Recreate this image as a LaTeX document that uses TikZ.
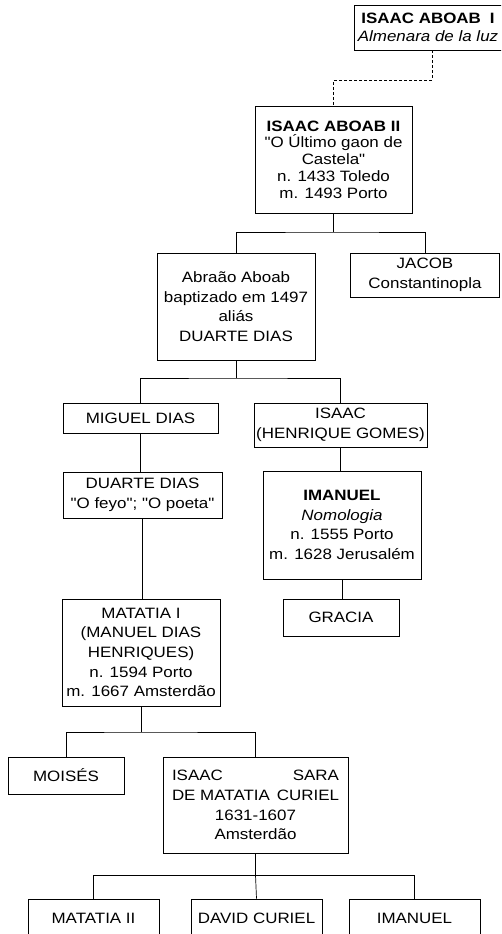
\documentclass[tikz,border=0pt]{standalone}
\usepackage{fontspec}
\setmainfont{Liberation Sans}[FakeStretch=1.13,Ligatures=TeXOff]
\newcommand{\dq}{\symbol{34}}
\begin{document}
\begin{tikzpicture}[x=1pt,y=-1pt,
  box/.style={draw=black,line width=0.8pt,inner sep=0pt,align=center,
    font=\fontsize{15}{19.7}\selectfont},
  conn/.style={draw=black,line width=0.7pt},
  dconn/.style={conn,dash pattern=on 3pt off 2pt}]
\useasboundingbox (0,0) rectangle (501,934);
\clip (0,0) rectangle (501,934);
% boxes
\node[box,minimum width=148pt,minimum height=45pt,font=\fontsize{15}{18}\selectfont] (aboab1) at (428,27.5)
  {\textbf{ISAAC ABOAB\hspace{0.6em}I}\\\textit{Almenara de la luz}};
\node[box,minimum width=157pt,minimum height=107pt,font=\fontsize{15}{16.75}\selectfont] (aboab2) at (333.5,159.5)
  {\textbf{ISAAC ABOAB II}\\\dq O Último gaon de\\Castela\dq\\n. 1433 Toledo\\m. 1493 Porto};
\node[box,minimum width=158pt,minimum height=107pt] (abraao) at (236,306.5)
  {Abraão Aboab\\baptizado em 1497\\aliás\\DUARTE DIAS};
\node[box,minimum width=149pt,minimum height=44pt] (jacob) at (425,275)
  {JACOB\\Constantinopla};
\node[box,minimum width=155pt,minimum height=30pt] (miguel) at (140.5,418)
  {MIGUEL DIAS};
\node[box,minimum width=173pt,minimum height=44pt] (isaachg) at (340.5,425)
  {ISAAC\\(HENRIQUE GOMES)};
\node[box,minimum width=159pt,minimum height=46pt] (duarte) at (142.5,495)
  {DUARTE DIAS\\\dq O feyo\dq; \dq O poeta\dq};
\node[box,minimum width=158pt,minimum height=108pt] (imanuel) at (342,525)
  {\textbf{IMANUEL}\\\textit{Nomologia}\\n. 1555 Porto\\m. 1628 Jerusalém};
\node[box,minimum width=158pt,minimum height=107pt] (matatia) at (141,652.5)
  {MATATIA I\\(MANUEL DIAS\\HENRIQUES)\\n. 1594 Porto\\m. 1667 Amsterdão};
\node[box,minimum width=116pt,minimum height=37pt] (gracia) at (341,617.5)
  {GRACIA};
\node[box,minimum width=116pt,minimum height=37pt] (moises) at (66,775.5)
  {MOISÉS};
\node[box,minimum width=185pt,minimum height=96pt] (isaacsara) at (255.5,805)
  {\makebox[167pt]{ISAAC\hfill SARA}\\\makebox[167pt]{DE MATATIA\hfill CURIEL}\\1631-1607\\Amsterdão};
\node[box,minimum width=131pt,minimum height=38pt] (matatia2) at (93.5,918)
  {MATATIA II};
\node[box,minimum width=131pt,minimum height=38pt] (david) at (256.5,918)
  {DAVID CURIEL};
\node[box,minimum width=131pt,minimum height=38pt] (imanuel2) at (414.5,918)
  {IMANUEL};
% junction coordinates
\coordinate (j0) at (333.5,80);
\coordinate (j1) at (333.5,232);
\coordinate (j2) at (236,378);
\coordinate (j3) at (141,732);
\coordinate (j4) at (255.5,875);
% connectors
\draw[dconn] ([xshift=4pt]aboab1.south) |- (j0) -- (aboab2.north);
\draw[conn] (aboab2.south) -- (j1);
\draw[conn] (abraao.north) |- (j1) -| (jacob.north);
\draw[conn] (abraao.south) -- (j2);
\draw[conn] (miguel.north) |- (j2) -| (isaachg.north);
\draw[conn] (miguel.south) -- (miguel.south |- duarte.north);
\draw[conn] (duarte.south) -- (duarte.south |- matatia.north);
\draw[conn] (isaachg.south) -- (isaachg.south |- imanuel.north);
\draw[conn] (imanuel.south) -- (imanuel.south |- gracia.north);
\draw[conn] (matatia.south) -- (j3);
\draw[conn] (moises.north) |- (j3) -| (isaacsara.north);
\draw[conn] (isaacsara.south) -- (j4);
\draw[conn] (matatia2.north) |- (j4) -| (imanuel2.north);
\draw[conn] (j4) -- (david.north);
\end{tikzpicture}
\end{document}
